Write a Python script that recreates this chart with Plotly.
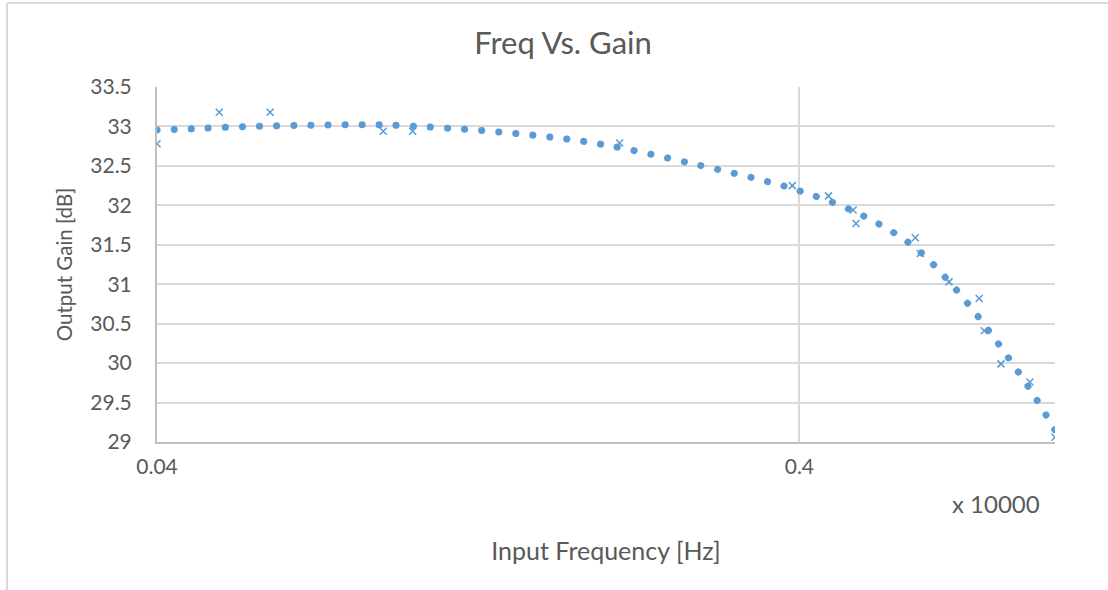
import plotly.graph_objects as go
import math

# Measured data (frequency in units of x 10000 Hz, gain in dB)
freq = [0.04, 0.05, 0.06, 0.09, 0.10, 0.21, 0.39, 0.444, 0.485, 0.49,
        0.606, 0.617, 0.684, 0.762, 0.776, 0.824, 0.914, 1.0]
gain = [32.78, 33.18, 33.18, 32.94, 32.94, 32.79, 32.25, 32.12, 31.94, 31.77,
        31.59, 31.39, 31.03, 30.82, 30.41, 29.99, 29.76, 29.06]

# Polynomial trendline values
trend_freq = [0.04, 0.0453, 0.0545, 0.0741, 0.0892, 0.1143, 0.1547, 0.1968,
              0.2755, 0.361, 0.40, 0.4915, 0.601, 0.704, 0.811, 0.924, 1.0]
trend_gain = [32.955, 32.97, 32.997, 33.018, 33.02, 32.976, 32.888, 32.774,
              32.52, 32.29, 32.185, 31.907, 31.485, 30.918, 30.277, 29.61, 29.15]

x_ticks = [0.04, 0.4]
x_ticktext = ["0.04", "0.4"]

blue = "#5B9BD5"
grey_txt = "#595959"
font = "Lato"

fig = go.Figure()
fig.add_trace(go.Scatter(
    x=trend_freq, y=trend_gain, mode="lines",
    line=dict(color=blue, width=7, dash="6px,11px", shape="spline", smoothing=1),
    hoverinfo="skip", showlegend=False))
fig.add_trace(go.Scatter(
    x=freq, y=gain, mode="markers",
    marker=dict(symbol="x-thin", size=7, line=dict(color=blue, width=1.5), color=blue),
    showlegend=False))

W, H = 1108, 590
L, R, T, B = 157, 53, 87, 148
pw, ph = W - L - R, H - T - B

fig.update_layout(
    width=W, height=H,
    margin=dict(l=L, r=R, t=T, b=B),
    paper_bgcolor="white", plot_bgcolor="white",
    font=dict(family=font, color=grey_txt, size=20),
    title=dict(text="Freq Vs. Gain", x=563 / W, xref="container", xanchor="center",
               y=1 - 43 / H, yanchor="middle",
               font=dict(family=font, size=31, color=grey_txt)),
    xaxis=dict(type="log", range=[math.log10(0.04), math.log10(1.0)],
               tickvals=x_ticks, ticktext=x_ticktext,
               showgrid=True, gridcolor="#d9d9d9", gridwidth=2,
               showline=True, linecolor="#bfbfbf", linewidth=2,
               ticks="", ticklabelstandoff=5,
               tickfont=dict(size=21, color=grey_txt),
               title=dict(text="Input Frequency [Hz]", standoff=65,
                          font=dict(size=25, color=grey_txt)),
               zeroline=False),
    yaxis=dict(range=[29, 33.5], dtick=0.5, tick0=29,
               showgrid=True, gridcolor="#d9d9d9", gridwidth=2,
               showline=True, linecolor="#bfbfbf", linewidth=2,
               ticks="", ticklabelstandoff=19,
               tickfont=dict(size=21, color=grey_txt),
               title=dict(text="Output Gain [dB]", standoff=12,
                          font=dict(size=20.5, color=grey_txt)),
               zeroline=False),
    annotations=[dict(text="x 10000", xref="paper", yref="paper",
                      x=(996 - L) / pw, y=(H - B - 503) / ph,
                      xanchor="center", yanchor="middle", showarrow=False,
                      font=dict(size=24, color=grey_txt))],
    shapes=[
        dict(type="line", xref="paper", yref="paper",
             x0=(7 - L) / pw, x1=(W - L) / pw,
             y0=1 + (T - 3) / ph, y1=1 + (T - 3) / ph,
             line=dict(color="#d9d9d9", width=2)),
        dict(type="line", xref="paper", yref="paper",
             x0=(7 - L) / pw, x1=(7 - L) / pw,
             y0=1 + (T - 3) / ph, y1=(H - B - H) / ph,
             line=dict(color="#d9d9d9", width=2)),
    ],
)

fig.write_html("out.html", config={"displayModeBar": False}, post_script=(
    "document.body.style.margin='0';"
    "document.querySelectorAll('.js-line').forEach(function(e){"
    "e.style.strokeLinecap='round';e.style.strokeDasharray='0.1px,17px';});"))
